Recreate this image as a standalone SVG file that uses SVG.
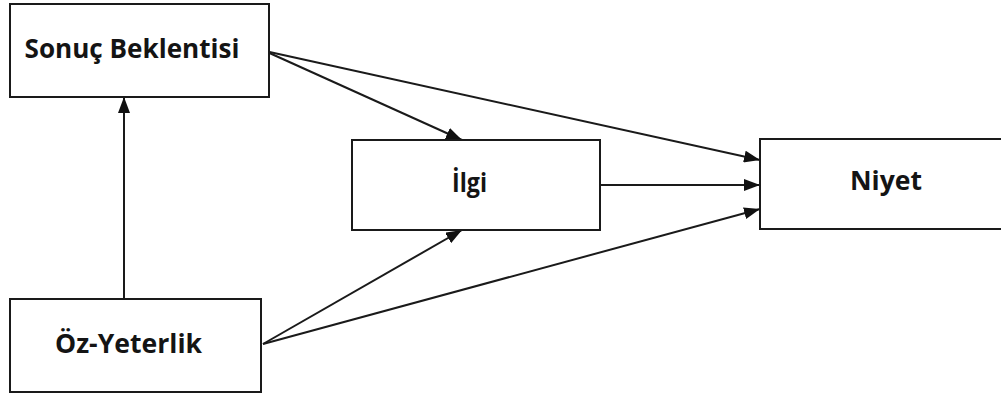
<svg xmlns="http://www.w3.org/2000/svg" width="1001" height="394" viewBox="0 0 1001 394">
  <style>
    .box { fill: #ffffff; stroke: #1a1a1a; stroke-width: 2; }
    .label { font-family: "Open Sans", "Noto Sans", "Liberation Sans", sans-serif; font-weight: bold; font-size: 27px; fill: #141414; text-anchor: middle; }
    .edge { fill: none; stroke: #1a1a1a; stroke-width: 2; marker-end: url(#arrow); }
  </style>
  <defs>
    <marker id="arrow" markerUnits="userSpaceOnUse" markerWidth="16" markerHeight="12" viewBox="0 0 16 12" refX="16" refY="6" orient="auto">
      <path d="M0,0 L16,6 L0,12 Z" fill="#111111"/>
    </marker>
  </defs>
  <rect width="1001" height="394" fill="#ffffff"/>

  <!-- connectors -->
  <g id="connectors">
    <line class="edge" x1="124" y1="299" x2="124" y2="97"/>
    <line class="edge" x1="265" y1="51" x2="462" y2="140"/>
    <line class="edge" x1="265" y1="51" x2="760" y2="160"/>
    <line class="edge" x1="600" y1="185" x2="760" y2="185"/>
    <line class="edge" x1="263" y1="344" x2="462" y2="230"/>
    <line class="edge" x1="263" y1="344" x2="760" y2="209"/>
  </g>

  <!-- nodes -->
  <g id="sonuc-beklentisi">
    <rect class="box" x="10" y="4" width="259" height="93"/>
    <text class="label" x="132" y="58" textLength="215" lengthAdjust="spacingAndGlyphs">Sonuç Beklentisi</text>
  </g>
  <g id="oz-yeterlik">
    <rect class="box" x="10" y="299" width="251" height="93"/>
    <text class="label" x="128.5" y="353" textLength="147" lengthAdjust="spacingAndGlyphs">Öz-Yeterlik</text>
  </g>
  <g id="ilgi">
    <rect class="box" x="352" y="140" width="248" height="90"/>
    <text class="label" x="469.5" y="192" textLength="35" lengthAdjust="spacingAndGlyphs">İlgi</text>
  </g>
  <g id="niyet">
    <rect class="box" x="760" y="139" width="250" height="90"/>
    <text class="label" x="886" y="190" textLength="72" lengthAdjust="spacingAndGlyphs">Niyet</text>
  </g>
</svg>
